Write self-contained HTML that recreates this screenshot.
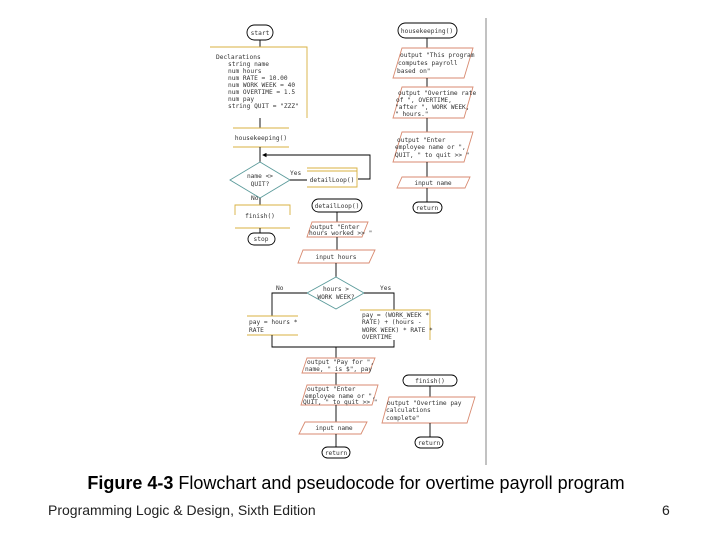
<!DOCTYPE html>
<html><head><meta charset="utf-8"><style>
html,body{margin:0;padding:0;background:#fff;width:720px;height:540px;overflow:hidden}
svg{position:absolute;left:0;top:0}
.t{font-family:"DejaVu Sans Mono","Liberation Mono",monospace;font-size:6.2px;fill:#333}
.cap{font-family:"Liberation Sans",sans-serif}
</style></head><body>
<svg width="720" height="540" viewBox="0 0 720 540" xmlns="http://www.w3.org/2000/svg">
<defs><marker id="a" markerWidth="5" markerHeight="5" refX="4" refY="2.5" orient="auto"><path d="M0,0 L5,2.5 L0,5z" fill="#000"/></marker></defs>
<g fill="none" stroke-width="0.9">
<line x1="486" y1="18" x2="486" y2="465" stroke="#777"/>
<rect x="247" y="25" width="26" height="15" rx="7.5" stroke="#000"/>
<line x1="260" y1="40" x2="260" y2="47" stroke="#000"/>
<path d="M210,47 H307 V118" stroke="#d8b040"/>
<line x1="260" y1="118" x2="260" y2="128" stroke="#000"/>
<line x1="233" y1="128" x2="289" y2="128" stroke="#d8b040"/>
<line x1="233" y1="147" x2="289" y2="147" stroke="#d8b040"/>
<line x1="260" y1="147" x2="260" y2="162" stroke="#000"/>
<path d="M358,179 H370 V155 H263" stroke="#000" marker-end="url(#a)"/>
<path d="M230,180 L260,162 L290,180 L260,198z" stroke="#5a9a9a"/>
<line x1="290" y1="180" x2="307" y2="180" stroke="#000"/>
<path d="M307,168 H357 V187 H307 M307,171 H357" stroke="#d8b040"/>
<line x1="260" y1="198" x2="260" y2="205" stroke="#000"/>
<path d="M235,215 V205 H290 V215 M235,228 H290" stroke="#d8b040"/>
<line x1="260" y1="228" x2="260" y2="233" stroke="#000"/>
<rect x="248" y="233" width="27" height="12" rx="6" stroke="#000"/>
<rect x="312" y="199" width="50" height="13" rx="6.5" stroke="#000"/>
<line x1="337" y1="212" x2="337" y2="222" stroke="#000"/>
<path d="M312,222 H368 L362,237 H307z" stroke="#d88a70"/>
<line x1="337" y1="237" x2="337" y2="250" stroke="#000"/>
<path d="M303,250 H375 L369,263 H298z" stroke="#d88a70"/>
<line x1="336" y1="263" x2="336" y2="277" stroke="#000"/>
<path d="M307,293 L336,277 L364,293 L336,309z" stroke="#5a9a9a"/>
<path d="M307,293 H272 V316" stroke="#000"/>
<path d="M364,293 H394 V310" stroke="#000"/>
<path d="M247,316 H298 M247,335 H298" stroke="#d8b040"/>
<path d="M360,310 H430 V340" stroke="#d8b040"/>
<path d="M272,335 V347 H394 V340" stroke="#000"/>
<line x1="336" y1="347" x2="336" y2="358" stroke="#000"/>
<path d="M307,358 H375 L369,373 H302z" stroke="#d88a70"/>
<line x1="336" y1="373" x2="336" y2="385" stroke="#000"/>
<path d="M307,385 H378 L372,405 H301z" stroke="#d88a70"/>
<line x1="336" y1="405" x2="336" y2="422" stroke="#000"/>
<path d="M305,422 H367 L361,434 H299z" stroke="#d88a70"/>
<line x1="336" y1="434" x2="336" y2="447" stroke="#000"/>
<rect x="322" y="447" width="28" height="11" rx="5.5" stroke="#000"/>
<rect x="398" y="23" width="59" height="15" rx="7.5" stroke="#000"/>
<line x1="427" y1="38" x2="427" y2="48" stroke="#000"/>
<path d="M402,48 H473 L464,78 H393z" stroke="#d88a70"/>
<line x1="427" y1="78" x2="427" y2="87" stroke="#000"/>
<path d="M402,87 H473 L464,118 H393z" stroke="#d88a70"/>
<line x1="427" y1="118" x2="427" y2="132" stroke="#000"/>
<path d="M402,132 H473 L464,162 H393z" stroke="#d88a70"/>
<line x1="427" y1="162" x2="427" y2="177" stroke="#000"/>
<path d="M402,177 H470 L465,188 H397z" stroke="#d88a70"/>
<line x1="427" y1="188" x2="427" y2="202" stroke="#000"/>
<rect x="413" y="202" width="29" height="11" rx="5.5" stroke="#000"/>
<rect x="403" y="375" width="54" height="11" rx="5.5" stroke="#000"/>
<line x1="430" y1="386" x2="430" y2="397" stroke="#000"/>
<path d="M389,397 H475 L467,423 H382z" stroke="#d88a70"/>
<line x1="430" y1="423" x2="430" y2="437" stroke="#000"/>
<rect x="415" y="437" width="28" height="11" rx="5.5" stroke="#000"/>
</g>
<g class="t">
<text x="260" y="35" text-anchor="middle">start</text>
<text x="216" y="59">Declarations</text>
<text x="228" y="66">string name</text>
<text x="228" y="73">num hours</text>
<text x="228" y="80">num RATE = 10.00</text>
<text x="228" y="87">num WORK WEEK = 40</text>
<text x="228" y="94">num OVERTIME = 1.5</text>
<text x="228" y="101">num pay</text>
<text x="228" y="108">string QUIT = "ZZZ"</text>
<text x="261" y="140" text-anchor="middle">housekeeping()</text>
<text x="260" y="178" text-anchor="middle">name &lt;&gt;</text>
<text x="260" y="186" text-anchor="middle">QUIT?</text>
<text x="290" y="175">Yes</text>
<text x="332" y="182" text-anchor="middle">detailLoop()</text>
<text x="251" y="200">No</text>
<text x="260" y="218" text-anchor="middle">finish()</text>
<text x="261" y="241" text-anchor="middle">stop</text>
<text x="337" y="208" text-anchor="middle">detailLoop()</text>
<text x="311" y="229">output "Enter</text>
<text x="309" y="235">hours worked &gt;&gt; "</text>
<text x="336" y="259" text-anchor="middle">input hours</text>
<text x="336" y="291" text-anchor="middle">hours &gt;</text>
<text x="336" y="299" text-anchor="middle">WORK WEEK?</text>
<text x="276" y="290">No</text>
<text x="380" y="290">Yes</text>
<text x="249" y="324">pay = hours *</text>
<text x="249" y="332">RATE</text>
<text x="362" y="317">pay = (WORK_WEEK *</text>
<text x="362" y="324">RATE) + (hours -</text>
<text x="362" y="332">WORK WEEK) * RATE *</text>
<text x="362" y="339">OVERTIME</text>
<text x="307" y="364">output "Pay for ",</text>
<text x="305" y="371">name, " is $", pay</text>
<text x="307" y="391">output "Enter</text>
<text x="305" y="398">employee name or ",</text>
<text x="303" y="404">QUIT, " to quit &gt;&gt; "</text>
<text x="334" y="430" text-anchor="middle">input name</text>
<text x="336" y="455" text-anchor="middle">return</text>
<text x="427" y="33" text-anchor="middle">housekeeping()</text>
<text x="400" y="57">output "This program</text>
<text x="398" y="65">computes payroll</text>
<text x="397" y="73">based on"</text>
<text x="398" y="95">output "Overtime rate</text>
<text x="396" y="102">of ", OVERTIME,</text>
<text x="395" y="109">"after ", WORK WEEK,</text>
<text x="395" y="116">" hours."</text>
<text x="397" y="142">output "Enter</text>
<text x="395" y="149">employee name or ",</text>
<text x="395" y="157">QUIT, " to quit &gt;&gt; "</text>
<text x="433" y="185" text-anchor="middle">input name</text>
<text x="427" y="210" text-anchor="middle">return</text>
<text x="430" y="383" text-anchor="middle">finish()</text>
<text x="387" y="405">output "Overtime pay</text>
<text x="386" y="412">calculations</text>
<text x="386" y="420">complete"</text>
<text x="429" y="445" text-anchor="middle">return</text>
</g>
<text class="cap" x="356" y="489" text-anchor="middle" font-size="18" fill="#000"><tspan font-weight="bold">Figure 4-3</tspan> Flowchart and pseudocode for overtime payroll program</text>
<text class="cap" x="48" y="515" font-size="14" fill="#222">Programming Logic &amp; Design, Sixth Edition</text>
<text class="cap" x="662" y="515" font-size="14" fill="#222">6</text>
</svg>
</body></html>
